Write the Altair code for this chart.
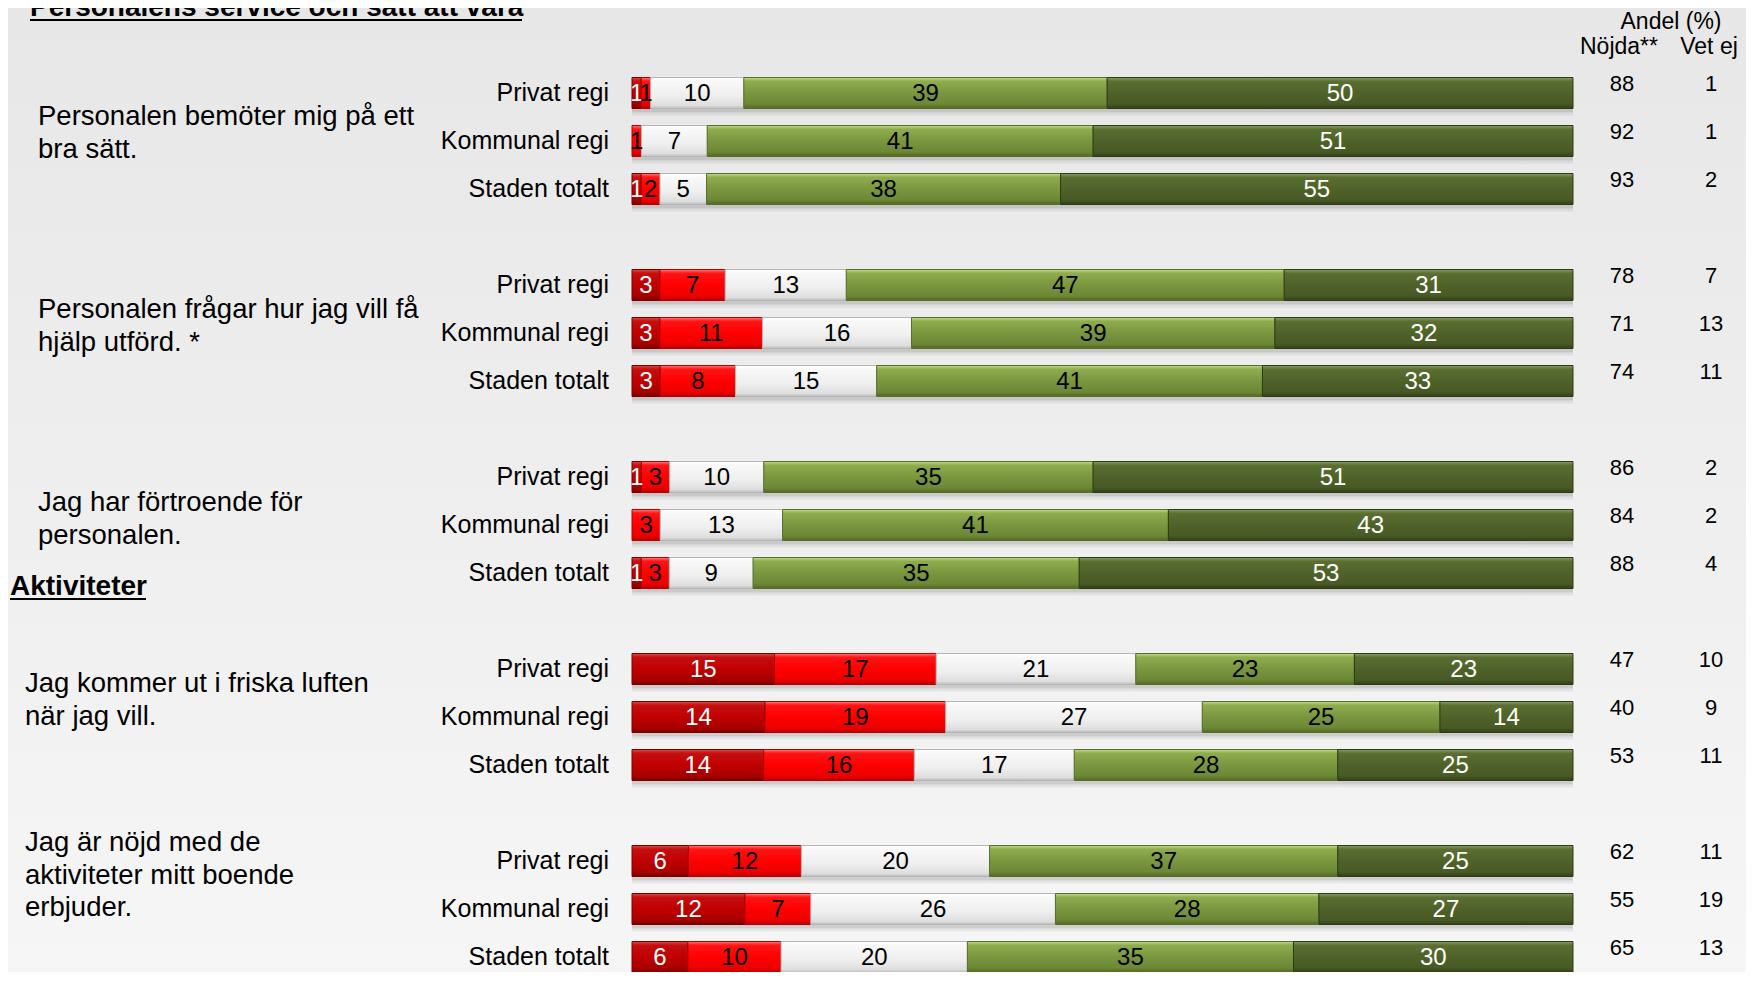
import altair as alt
import pandas as pd

FONT = "Liberation Sans"

# ---------------- data ----------------
title_text = "Personalens service och sätt att vara"
section_text = "Aktiviteter"
questions = [
    "Personalen bemöter mig på ett\nbra sätt.",
    "Personalen frågar hur jag vill få\nhjälp utförd. *",
    "Jag har förtroende för\npersonalen.",
    "Jag kommer ut i friska luften\nnär jag vill.",
    "Jag är nöjd med de\naktiviteter  mitt boende\nerbjuder.",
]
units = ["Privat regi", "Kommunal regi", "Staden totalt"]
categories = ["Mycket missnöjd", "Ganska missnöjd", "Varken eller", "Ganska nöjd", "Mycket nöjd"]

very_dissatisfied = [1, 0, 1, 3, 3, 3, 1, 0, 1, 15, 14, 14, 6, 12, 6]
dissatisfied = [1, 1, 2, 7, 11, 8, 3, 3, 3, 17, 19, 16, 12, 7, 10]
neutral = [10, 7, 5, 13, 16, 15, 10, 13, 9, 21, 27, 17, 20, 26, 20]
satisfied = [39, 41, 38, 47, 39, 41, 35, 41, 35, 23, 25, 28, 37, 28, 35]
very_satisfied = [50, 51, 55, 31, 32, 33, 51, 43, 53, 23, 14, 25, 25, 27, 30]
nojda = [88, 92, 93, 78, 71, 74, 86, 84, 88, 47, 40, 53, 62, 55, 65]
vet_ej = [1, 1, 2, 7, 13, 11, 2, 2, 4, 10, 9, 11, 11, 19, 13]
header_top = "Andel (%)"
header_cols = ["Nöjda**", "Vet ej"]

series = [very_dissatisfied, dissatisfied, neutral, satisfied, very_satisfied]
N_ROWS = 19

seg_records, row_records = [], []
for i in range(len(nojda)):
    g, u = divmod(i, 3)
    row = g * 4 + u
    row_records.append({"row": row, "unit": units[u], "nojda": nojda[i], "vetej": vet_ej[i]})
    for c, vals in enumerate(series):
        seg_records.append({"row": row, "cat": c, "category": categories[c], "value": vals[i]})
seg_df = pd.DataFrame(seg_records)
row_df = pd.DataFrame(row_records)
q_df = pd.DataFrame({"q": questions, "row": [g * 4 + 1 for g in range(len(questions))],
                     "g": list(range(len(questions)))})

# ---------------- styling ----------------
def grad(stops):
    return alt.Gradient(gradient="linear", x1=0, x2=0, y1=0, y2=1,
                        stops=[alt.GradientStop(offset=o, color=c) for o, c in stops])

fills = [
    grad([(0, "#e04848"), (0.12, "#c41010"), (0.5, "#c00000"), (0.85, "#a80000"), (1, "#7e0000")]),
    grad([(0, "#ff7a7a"), (0.12, "#ff1414"), (0.5, "#ff0000"), (0.85, "#ee0000"), (1, "#c00000")]),
    grad([(0, "#ffffff"), (0.15, "#f8f8f8"), (0.6, "#eeeeee"), (0.9, "#dedede"), (1, "#bcbcbc")]),
    grad([(0, "#c3da8c"), (0.12, "#8fad4d"), (0.5, "#7a963f"), (0.85, "#6d8836"), (1, "#52681f")]),
    grad([(0, "#8aa164"), (0.12, "#5a6f31"), (0.5, "#4f6228"), (0.85, "#485a24"), (1, "#333f18")]),
]
edges = ["#7a0000", "#b30000", "#b5b5b5", "#56702a", "#2e3a14"]

W, H = 941, 903
BAR = 31
yscale = alt.Scale(domain=list(range(N_ROWS)), range=[0, 912], paddingInner=0, paddingOuter=0)
xscale = alt.Scale(domain=[0, 1], nice=False, zero=True)

def Y(axis=None):
    return alt.Y("row:O", scale=yscale, axis=axis, title=None)

yaxis = alt.Axis(labels=False, ticks=True, bandPosition=0, tickSize=7, tickColor="#8c8c8c",
                 tickWidth=1.5, domainColor="#8c8c8c", domainWidth=1.5, grid=False, title=None)
xaxis = alt.Axis(orient="top", labels=False, ticks=False, grid=False, domainColor="#8c8c8c",
                 domainWidth=1.5, title=None)

base = alt.Chart(seg_df).transform_stack(
    stack="value", groupby=["row"], as_=["x0", "x1"], offset="normalize",
    sort=[alt.SortField("cat", order="ascending")]
).transform_filter(alt.datum.value > 0)

layers = []

# background
bg = alt.Chart(pd.DataFrame({"a": [0]})).mark_rect(
    color=grad([(0, "#e7e7e7"), (1, "#f6f6f6")])
).encode(x=alt.value(-624), x2=alt.value(W + 173), y=alt.value(-61), y2=alt.value(H + 5))
layers.append(bg)

# shadows
for off, op in [(4, 0.10), (7, 0.06)]:
    layers.append(base.mark_bar(size=BAR, color="#000000", opacity=op, yOffset=off).encode(
        x=alt.X("x0:Q", scale=xscale, axis=None), x2="x1:Q", y=Y()))

# bars
for k in range(len(categories)):
    layers.append(
        base.transform_filter(alt.datum.cat == k).mark_bar(
            size=BAR, color=fills[k], stroke=edges[k], strokeWidth=1
        ).encode(
            x=alt.X("x0:Q", scale=xscale, axis=xaxis if k == 0 else None),
            x2="x1:Q",
            y=Y(yaxis if k == 0 else None),
        )
    )

# segment labels
layers.append(
    base.transform_calculate(
        mid="(datum.x0 + datum.x1) / 2",
        lc="(datum.cat == 0 || datum.cat == 4) ? '#ffffff' : '#000000'",
    ).mark_text(font=FONT, fontSize=24, baseline="middle", dy=1).encode(
        x=alt.X("mid:Q", scale=xscale, axis=None),
        y=Y(),
        text="value:Q",
        color=alt.Color("lc:N", scale=None),
    )
)

# row labels
layers.append(alt.Chart(row_df).mark_text(font=FONT, fontSize=25, align="right", baseline="middle",
                                          color="#000000").encode(
    x=alt.value(-23), y=Y(), text="unit:N"))

# right columns
layers.append(alt.Chart(row_df).mark_text(font=FONT, fontSize=22, align="center", baseline="middle",
                                          dy=-9, color="#000000").encode(
    x=alt.value(990), y=Y(), text="nojda:Q"))
layers.append(alt.Chart(row_df).mark_text(font=FONT, fontSize=22, align="center", baseline="middle",
                                          dy=-9, color="#000000").encode(
    x=alt.value(1079), y=Y(), text="vetej:Q"))

# headers
layers.append(alt.Chart(pd.DataFrame({"t": [header_top]})).mark_text(
    font=FONT, fontSize=23, align="center", baseline="middle", color="#000000").encode(
    x=alt.value(1039), y=alt.value(-47), text="t:N"))
for txt, xv in zip(header_cols, [987, 1077]):
    layers.append(alt.Chart(pd.DataFrame({"t": [txt]})).mark_text(
        font=FONT, fontSize=23, align="center", baseline="middle", color="#000000").encode(
        x=alt.value(xv), y=alt.value(-22), text="t:N"))

# questions (first-line position relative to the "Kommunal regi" row)
q_dx = [-594, -594, -594, -607, -607]
q_dy = [-24, -23, -22, -33, -66]
for g in range(len(questions)):
    layers.append(alt.Chart(q_df).transform_filter(alt.datum.g == g).mark_text(
        font=FONT, fontSize=27.5, align="left", baseline="middle", lineBreak="\n",
        lineHeight=32.5, dy=q_dy[g], color="#000000").encode(
        x=alt.value(q_dx[g]), y=Y(), text="q:N"))

# title (bold, underlined)
layers.append(alt.Chart(pd.DataFrame({"t": [title_text]})).mark_text(
    font=FONT, fontSize=28, fontWeight="bold", align="left", baseline="alphabetic", color="#000000").encode(
    x=alt.value(-602), y=alt.value(-53), text="t:N"))
layers.append(alt.Chart(pd.DataFrame({"t": [title_text]})).mark_rule(color="#000000", strokeWidth=2).encode(
    x=alt.value(-602), x2=alt.value(-110), y=alt.value(-49)))

# section heading "Aktiviteter"
sec_df = pd.DataFrame({"t": [section_text], "row": [10]})
layers.append(alt.Chart(sec_df).mark_text(
    font=FONT, fontSize=28, fontWeight="bold", align="left", baseline="alphabetic", dy=22,
    color="#000000").encode(x=alt.value(-622), y=Y(), text="t:N"))
layers.append(alt.Chart(sec_df).mark_rule(color="#000000", strokeWidth=2, yOffset=26).encode(
    x=alt.value(-622), x2=alt.value(-486), y=Y()))

chart = alt.layer(*layers).properties(
    width=W, height=H,
    autosize=alt.AutoSizeParams(type="none"),
    padding={"left": 624, "top": 61, "right": 173, "bottom": 0},
    background="#eeeeee",
).configure_view(stroke=None)

chart.save("out.html", embed_options={"renderer": "svg", "actions": False})
